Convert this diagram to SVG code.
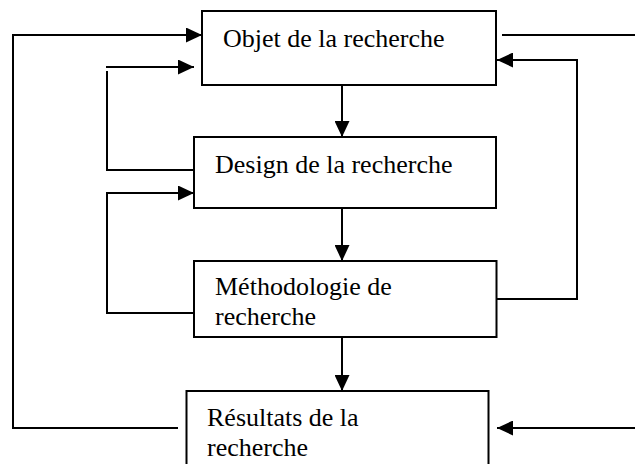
<svg xmlns="http://www.w3.org/2000/svg" width="635" height="464" viewBox="0 0 635 464">
<style>
.box{fill:#fff;stroke:#000;stroke-width:2}
.lbl{font-family:"Liberation Serif","Times New Roman",serif;font-size:26px;fill:#000}
.ln{fill:none;stroke:#000;stroke-width:2}
.arr{fill:none;stroke:#000;stroke-width:2;marker-end:url(#ah)}
</style>
<defs>
<marker id="ah" markerUnits="userSpaceOnUse" markerWidth="16" markerHeight="15" refX="16" refY="7.5" orient="auto">
<path d="M0,0 L16,7.5 L0,15 z" fill="#000"/>
</marker>
</defs>
<rect width="635" height="464" fill="#fff"/>
<g id="n1"><rect class="box" x="202" y="11" width="294" height="74"/><text class="lbl" x="223" y="47">Objet de la recherche</text></g>
<g id="n2"><rect class="box" x="194" y="137" width="302" height="71"/><text class="lbl" x="215" y="173">Design de la recherche</text></g>
<g id="n3"><rect class="box" x="194" y="261" width="302.5" height="76"/><text class="lbl" x="215" y="295">Méthodologie de</text><text class="lbl" x="215" y="325">recherche</text></g>
<g id="n4"><rect class="box" x="186.5" y="391" width="302" height="82"/><text class="lbl" x="207" y="426">Résultats de la</text><text class="lbl" x="207" y="456">recherche</text></g>
<g id="connectors">
<path class="arr" d="M342,85 V137"/>
<path class="arr" d="M342,208 V261"/>
<path class="arr" d="M342,337 V391"/>
<path class="arr" d="M178,428 H13 V35 H202"/>
<path class="ln" d="M194,170 H107 V71"/>
<path class="arr" d="M106,67 H194"/>
<path class="arr" d="M194,313 H107 V193 H194"/>
<path class="arr" d="M496,299 H577 V60 H497"/>
<path class="ln" d="M502,35 H635"/>
<path class="arr" d="M635,428 H497"/>
</g>
</svg>
